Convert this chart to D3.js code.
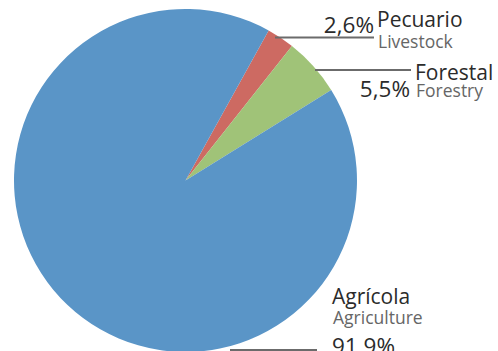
<!DOCTYPE html>
<html>
<head>
<meta charset="utf-8">
<script src="https://cdn.jsdelivr.net/npm/d3@7"></script>
<style>
  html, body { margin: 0; padding: 0; background: #fff; }
  svg { display: block; }
  text { font-family: "Open Sans", "Noto Sans", sans-serif; }
</style>
</head>
<body>
<svg id="chart" width="498" height="351"></svg>
<script>
// Sector shares (percent)
const categories = ["Pecuario", "Forestal", "Agrícola"];
const subtitles = ["Livestock", "Forestry", "Agriculture"];
const values = [2.6, 5.5, 91.9];
const valueLabels = ["2,6%", "5,5%", "91,9%"];
const colors = ["#cd6a62", "#a0c378", "#5a95c7"];

const svg = d3.select("#chart");
const cx = 185.5, cy = 180.5, r = 171.5;
const startAngle = 29 * Math.PI / 180;

const pie = d3.pie().sort(null).value(d => d)
  .startAngle(startAngle).endAngle(startAngle + 2 * Math.PI);
const arcs = pie(values);
const arc = d3.arc().innerRadius(0).outerRadius(r);

const g = svg.append("g").attr("transform", `translate(${cx},${cy})`);
g.selectAll("path").data(arcs).enter().append("path")
  .attr("d", arc)
  .attr("fill", (d, i) => colors[i]);

const lineColor = "#6b6b6b";
const dark = "#2b2b2b";
const grey = "#666666";
const titleSize = 21, pctSize = 22.5, subSize = 17.5;

function leader(x1, x2, y) {
  svg.append("line").attr("x1", x1).attr("y1", y).attr("x2", x2).attr("y2", y)
    .attr("stroke", lineColor).attr("stroke-width", 2);
}
function label(x, y, txt, size, fill, anchor) {
  svg.append("text").attr("x", x).attr("y", y)
    .attr("text-anchor", anchor || "start")
    .attr("font-size", size).attr("fill", fill).text(txt);
}

// Pecuario
leader(275, 374, 37.5);
label(374, 33, valueLabels[0], pctSize, dark, "end");
label(377, 27, categories[0], titleSize, dark);
label(378, 47.5, subtitles[0], subSize, grey);

// Forestal
leader(315, 411, 70);
label(415, 80, categories[1], titleSize, dark);
label(410, 97, valueLabels[1], pctSize, dark, "end");
label(416, 97, subtitles[1], subSize, grey);

// Agrícola
leader(230, 317, 350);
label(332, 304, categories[2], titleSize, dark);
label(333, 324, subtitles[2], subSize, grey);
label(332, 354, valueLabels[2], pctSize, dark);
</script>
</body>
</html>
